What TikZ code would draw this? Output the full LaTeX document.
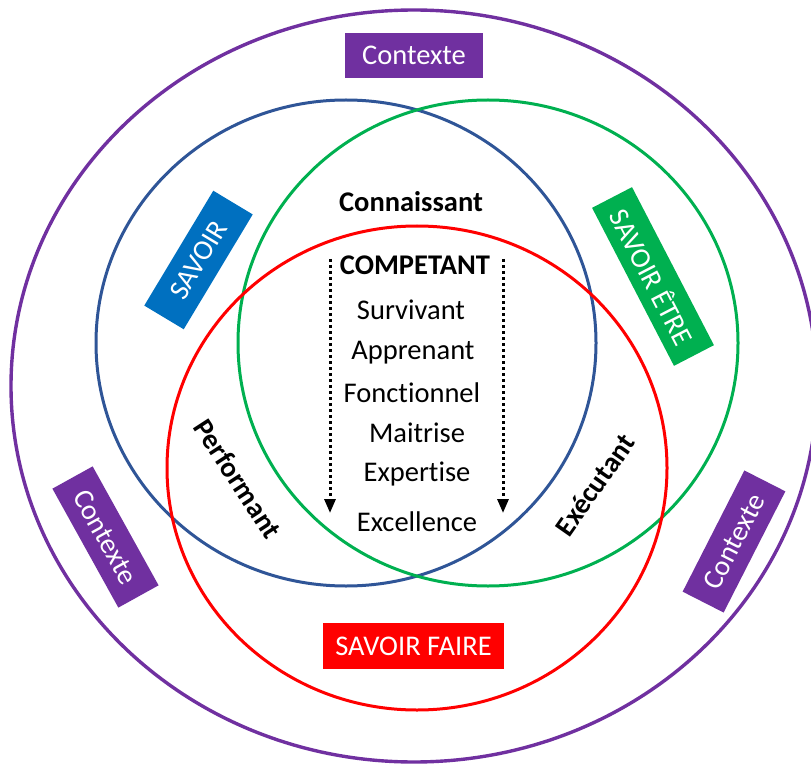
\documentclass[tikz,border=0pt]{standalone}
\usepackage{fontspec}
\setmainfont{Carlito}[Ligatures=NoCommon]
\usetikzlibrary{arrows.meta}

\definecolor{ctxpurple}{HTML}{7030A0}
\definecolor{savblue}{HTML}{0070C0}
\definecolor{ringblue}{HTML}{2F5597}
\definecolor{savgreen}{HTML}{00B050}
\definecolor{savred}{HTML}{FF0000}

\begin{document}
\begin{tikzpicture}[x=1pt, y=-1pt,
    ring/.style={
        line width=3pt
    },
    labelbox/.style={
        fill=#1,
        text=white,
        inner sep=0pt,
        minimum height=46pt,
        font=\fontsize{28.5}{34}\selectfont
    },
    level/.style={
        font=\fontsize{28.5}{34}\selectfont
    },
    stage/.style={
        level,
        font=\fontsize{28.5}{34}\selectfont\bfseries
    },
    dotarrow/.style={
        line width=3pt,
        dash pattern=on 3pt off 3pt,
        -{Triangle[length=14pt,width=11pt]}
    }
]
\useasboundingbox (0,0) rectangle (811,767);

%%%%%%%%%%%%%%%%%%%%%%%%
% Cercles
%%%%%%%%%%%%%%%%%%%%%%%%

\draw[ring, ctxpurple, line width=3.4pt] (414,386) ellipse [x radius=403, y radius=376];
\draw[ring, ringblue] (346,343) ellipse [x radius=250, y radius=243];
\draw[ring, savgreen] (488,343) ellipse [x radius=250, y radius=243];
\draw[ring, savred] (417,468) ellipse [x radius=250, y radius=242];

%%%%%%%%%%%%%%%%%%%%%%%%
% Etiquettes
%%%%%%%%%%%%%%%%%%%%%%%%

% --- Contexte ---
\node[labelbox=ctxpurple, minimum width=138pt, minimum height=45pt] (ctxtop) at (414,55.5) {Contexte};
\node[labelbox=ctxpurple, minimum width=136pt, rotate=-61] (ctxleft) at (105.5,537) {Contexte};
\node[labelbox=ctxpurple, minimum width=136pt, rotate=63] (ctxright) at (734,541.5) {Contexte};

% --- Savoirs ---
\node[labelbox=savblue, minimum width=134pt, rotate=59] (savoir) at (198.5,260) {SAVOIR};
\node[labelbox=savgreen, minimum width=178pt, minimum height=45pt, rotate=-62.6] (etre) at (653,276.5) {SAVOIR ÊTRE};
\node[labelbox=savred, minimum width=181pt] (faire) at (413.5,646) {SAVOIR FAIRE};

%%%%%%%%%%%%%%%%%%%%%%%%
% Intersections
%%%%%%%%%%%%%%%%%%%%%%%%

\node[stage] (connaissant) at (411,202) {Connaissant};
\node[stage, rotate=-57] (performant) at (238,479) {Performant};
\node[stage, rotate=55] (executant) at (595,485) {Exécutant};
\node[stage] (competant) at (415,265) {COMPETANT};

% --- Niveaux ---
\foreach \x/\y/\name/\txt in {411/310/lvlA/Survivant, 413/353/lvlB/Apprenant,
    412/393/lvlC/Fonctionnel, 417/433/lvlD/Maitrise,
    417/474/lvlE/Expertise, 417/522/lvlF/Excellence}
    \node[level] (\name) at (\x,\y) {\txt};

%%%%%%%%%%%%%%%%%%%%%%%%
% Fleches
%%%%%%%%%%%%%%%%%%%%%%%%

\coordinate (arrLtop) at (330,259);
\coordinate (arrLend) at (330,513);
\coordinate (arrRtop) at (503,259);
\coordinate (arrRend) at (503,513);

\draw[dotarrow] (arrLtop) -- (arrLend);
\draw[dotarrow] (arrRtop) -- (arrRend);

\end{tikzpicture}
\end{document}
